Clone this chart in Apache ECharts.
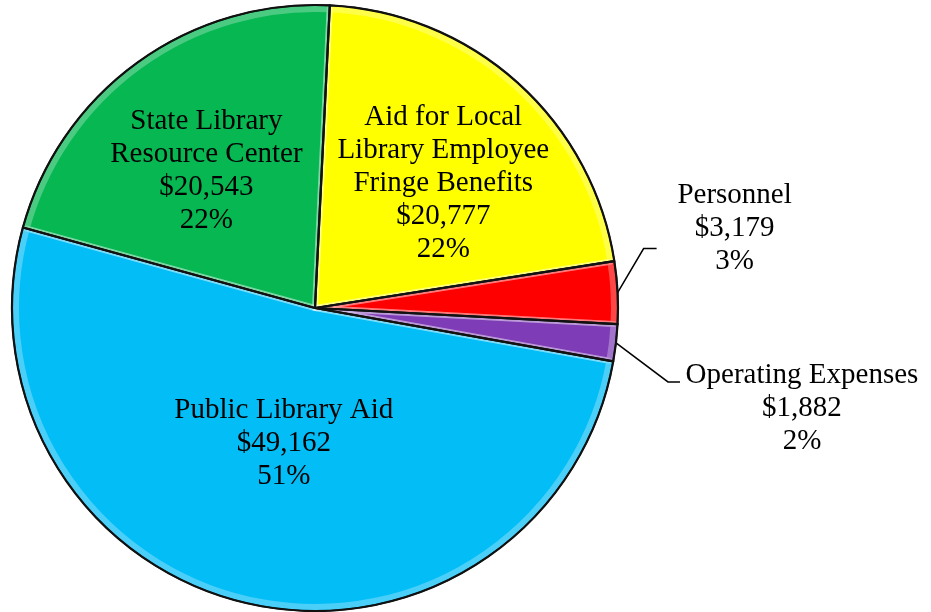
<!DOCTYPE html>
<html>
<head>
<meta charset="utf-8">
<script src="https://cdn.jsdelivr.net/npm/echarts@6/dist/echarts.min.js"></script>
<style>
  html, body { margin: 0; padding: 0; background: #ffffff; }
  #chart { width: 931px; height: 612px; }
</style>
</head>
<body>
<div id="chart"></div>
<script>
// Library budget by program (thousands of dollars), clockwise from the top
const categories = [
  'Aid for Local\nLibrary Employee\nFringe Benefits',
  'Personnel',
  'Operating Expenses',
  'Public Library Aid',
  'State Library\nResource Center'
];
const amounts = [20777, 3179, 1882, 49162, 20543];
const sliceColors = ['#FFFF00', '#FF0000', '#7E3DB6', '#03BDF6', '#06B752'];
const outsideSlices = ['Personnel', 'Operating Expenses'];

const total = amounts.reduce((a, b) => a + b, 0);

function money(v) {
  return '$' + v.toLocaleString('en-US');
}
function labelText(p) {
  const pct = Math.round(p.value / total * 100);
  return p.name + '\n' + money(p.value) + '\n' + pct + '%';
}

// nudges for the labels drawn inside their slices
const insideNudge = {
  'Aid for Local\nLibrary Employee\nFringe Benefits': [25, -10],
  'Public Library Aid': [3, -15],
  'State Library\nResource Center': [-18, -12]
};
// leader line shape for the slices labelled outside: bend, run, label offset
const leaderShape = {
  'Personnel': { bend: [26, -44], run: 13, text: [78, -20] },
  'Operating Expenses': { bend: [52, 39], run: 12, text: [122, 27] }
};

const pieData = categories.map((name, i) => {
  const outside = outsideSlices.includes(name);
  return {
    name: name,
    value: amounts[i],
    itemStyle: { color: sliceColors[i] },
    label: { position: outside ? 'outside' : 'inside' },
    labelLine: { show: outside }
  };
});

const common = {
  type: 'pie',
  center: [315, 308],
  startAngle: 87.2,
  clockwise: true,
  avoidLabelOverlap: false,
  animation: false
};

const chart = echarts.init(document.getElementById('chart'), null, { renderer: 'canvas' });
chart.setOption({
  backgroundColor: '#ffffff',
  series: [
    Object.assign({}, common, {
      name: 'budget',
      radius: [0, 303],
      z: 1,
      data: pieData,
      itemStyle: { borderColor: '#111111', borderWidth: 1.5 },
      label: {
        formatter: labelText,
        fontFamily: 'Liberation Serif',
        fontSize: 29,
        lineHeight: 33,
        color: '#000000'
      },
      labelLine: {
        length: 30,
        length2: 12,
        lineStyle: { color: '#000000', width: 1.5 }
      },
      labelLayout: function (params) {
        const name = categories[params.dataIndex];
        if (leaderShape[name] && params.labelLinePoints) {
          const s = leaderShape[name];
          const p0 = params.labelLinePoints[0];
          const p1 = [p0[0] + s.bend[0], p0[1] + s.bend[1]];
          const p2 = [p1[0] + s.run, p1[1]];
          return {
            x: p2[0] + s.text[0],
            y: p2[1] + s.text[1],
            align: 'center',
            verticalAlign: 'middle',
            labelLinePoints: [p0, p1, p2]
          };
        }
        const n = insideNudge[name] || [0, 0];
        return { dx: n[0], dy: n[1] };
      },
      emphasis: { disabled: true }
    }),
    // soft highlight band just inside the slice edges
    Object.assign({}, common, {
      name: 'bevel',
      radius: [0, 299],
      z: 2,
      silent: true,
      data: amounts.map((v, i) => ({ name: categories[i], value: v })),
      itemStyle: { color: 'rgba(0,0,0,0)', borderColor: 'rgba(255,255,255,0.28)', borderWidth: 6 },
      label: { show: false },
      labelLine: { show: false },
      emphasis: { disabled: true }
    }),
    // crisp dark outline on top
    Object.assign({}, common, {
      name: 'outline',
      radius: [0, 303],
      z: 3,
      silent: true,
      data: amounts.map((v, i) => ({ name: categories[i], value: v })),
      itemStyle: { color: 'rgba(0,0,0,0)', borderColor: '#111111', borderWidth: 2.2 },
      label: { show: false },
      labelLine: { show: false },
      emphasis: { disabled: true }
    })
  ]
});
</script>
</body>
</html>
